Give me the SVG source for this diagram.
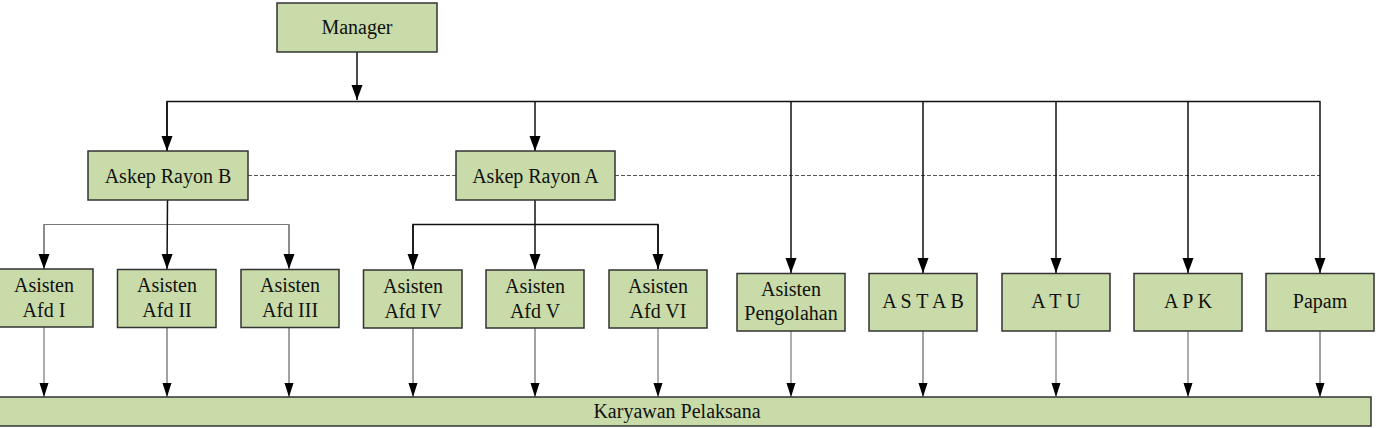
<svg xmlns="http://www.w3.org/2000/svg" width="1384" height="428" viewBox="0 0 1384 428">
<style>
.box{fill:#c9dba8;stroke:#333;stroke-width:1.5}
text{font-size:20px;fill:#111;text-anchor:middle}
.main{stroke:#111;stroke-width:1.5;fill:none}
.thin{stroke:#777;stroke-width:1.2;fill:none}
.low{stroke:#444;stroke-width:1;fill:none}
.dash{stroke:#555;stroke-width:1;stroke-dasharray:4 2;fill:none}
</style>
<defs>
<marker id="a" markerUnits="userSpaceOnUse" markerWidth="16" markerHeight="12" viewBox="0 0 16 12" refX="15" refY="6" orient="auto">
<path d="M0,0.5 L15,6 L0,11.5 Z" fill="#000"/>
</marker>
<marker id="b" markerUnits="userSpaceOnUse" markerWidth="15" markerHeight="10" viewBox="0 0 15 10" refX="14" refY="5" orient="auto">
<path d="M0,0.5 L14,5 L0,9.5 Z" fill="#000"/>
</marker>
</defs>
<g id="connectors">
<line class="dash" x1="248" y1="175.5" x2="456" y2="175.5"/>
<line class="dash" x1="615" y1="175.5" x2="1320" y2="175.5"/>
<line class="main" x1="357" y1="52" x2="357" y2="100" marker-end="url(#a)"/>
<path class="main" d="M167,151 V101.5 H1320.5"/>
<line class="main" x1="167" y1="101.5" x2="167" y2="151" marker-end="url(#a)"/>
<line class="main" x1="535" y1="101.5" x2="535" y2="151" marker-end="url(#a)"/>
<line class="main" x1="791" y1="101.5" x2="791" y2="273" marker-end="url(#a)"/>
<line class="main" x1="923" y1="101.5" x2="923" y2="273" marker-end="url(#a)"/>
<line class="main" x1="1056" y1="101.5" x2="1056" y2="273" marker-end="url(#a)"/>
<line class="main" x1="1188" y1="101.5" x2="1188" y2="273" marker-end="url(#a)"/>
<line class="main" x1="1320" y1="101.5" x2="1320" y2="273" marker-end="url(#a)"/>
<path class="thin" d="M44,269 V224.5 H289 V269"/>
<line class="thin" x1="44" y1="224.5" x2="44" y2="269" marker-end="url(#a)"/>
<line class="thin" x1="289" y1="224.5" x2="289" y2="269" marker-end="url(#a)"/>
<line class="main" x1="167.5" y1="200" x2="167" y2="269" marker-end="url(#a)"/>
<path class="main" d="M413,269 V224.5 H658 V269"/>
<line class="main" x1="413" y1="224.5" x2="413" y2="269" marker-end="url(#a)"/>
<line class="main" x1="535" y1="200" x2="535" y2="269" marker-end="url(#a)"/>
<line class="main" x1="658" y1="224.5" x2="658" y2="269" marker-end="url(#a)"/>
<line class="thin" x1="44" y1="327" x2="44" y2="397" marker-end="url(#b)"/>
<line class="low" x1="167" y1="327" x2="167" y2="397" marker-end="url(#b)"/>
<line class="low" x1="289" y1="327" x2="289" y2="397" marker-end="url(#b)"/>
<line class="low" x1="413" y1="328" x2="413" y2="397" marker-end="url(#b)"/>
<line class="low" x1="535" y1="328" x2="535" y2="397" marker-end="url(#b)"/>
<line class="thin" x1="658" y1="328" x2="658" y2="397" marker-end="url(#b)"/>
<line class="thin" x1="791" y1="331" x2="791" y2="397" marker-end="url(#b)"/>
<line class="low" x1="923" y1="331" x2="923" y2="397" marker-end="url(#b)"/>
<line class="thin" x1="1056" y1="331" x2="1056" y2="397" marker-end="url(#b)"/>
<line class="thin" x1="1188" y1="331" x2="1188" y2="397" marker-end="url(#b)"/>
<line class="low" x1="1320" y1="331" x2="1320" y2="397" marker-end="url(#b)"/>
</g>
<g font-family="'Liberation Serif', 'Times New Roman', 'DejaVu Serif', serif">
<g id="manager"><rect class="box" x="277" y="3" width="160" height="49"/><text x="357" y="34">Manager</text></g>
<g id="askep-b"><rect class="box" x="88" y="151" width="160" height="49"/><text x="168" y="183">Askep Rayon B</text></g>
<g id="askep-a"><rect class="box" x="456" y="151" width="159" height="49"/><text x="535.5" y="183">Askep Rayon A</text></g>
<g id="afd1"><rect class="box" x="-5" y="269" width="98" height="58"/><text x="44" y="292">Asisten</text><text x="44" y="317">Afd I</text></g>
<g id="afd2"><rect class="box" x="117.5" y="269.5" width="98.5" height="58"/><text x="167" y="292">Asisten</text><text x="167" y="317">Afd II</text></g>
<g id="afd3"><rect class="box" x="241" y="269.5" width="98" height="58"/><text x="290" y="292">Asisten</text><text x="290" y="317">Afd III</text></g>
<g id="afd4"><rect class="box" x="363.5" y="270" width="98.5" height="58"/><text x="413" y="293">Asisten</text><text x="413" y="318">Afd IV</text></g>
<g id="afd5"><rect class="box" x="486" y="270" width="98" height="58"/><text x="535" y="293">Asisten</text><text x="535" y="318">Afd V</text></g>
<g id="afd6"><rect class="box" x="609" y="270" width="98" height="58"/><text x="658" y="293">Asisten</text><text x="658" y="318">Afd VI</text></g>
<g id="pengolahan"><rect class="box" x="737" y="273.5" width="108" height="57.5"/><text x="791" y="296">Asisten</text><text x="791" y="320">Pengolahan</text></g>
<g id="astab"><rect class="box" x="869" y="273.5" width="108" height="57.5"/><text x="923" y="308">A S T A B</text></g>
<g id="atu"><rect class="box" x="1002" y="273.5" width="108" height="57.5"/><text x="1056" y="308">A T U</text></g>
<g id="apk"><rect class="box" x="1134" y="273.5" width="108" height="57.5"/><text x="1188" y="308">A P K</text></g>
<g id="papam"><rect class="box" x="1266" y="273.5" width="108" height="57.5"/><text x="1320" y="308">Papam</text></g>
<g id="karyawan"><rect class="box" x="-5" y="397" width="1376" height="29"/><text x="677" y="418">Karyawan Pelaksana</text></g>
</g>
</svg>
